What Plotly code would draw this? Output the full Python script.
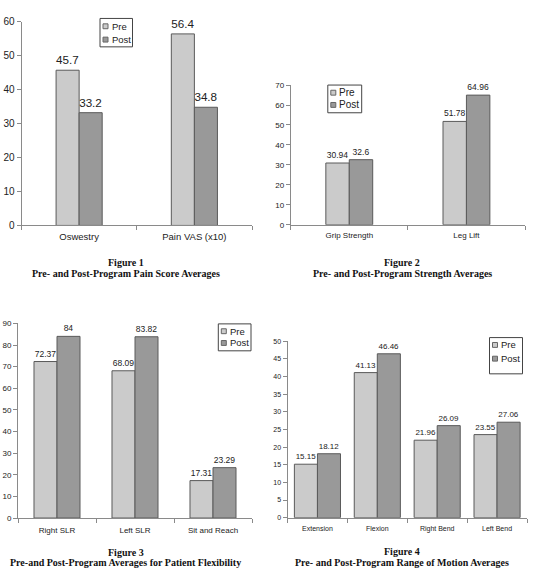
import plotly.graph_objects as go

W, H = 533, 588

cats1 = ["Oswestry", "Pain VAS (x10)"]
pre1 = [45.7, 56.4]
post1 = [33.2, 34.8]

cats2 = ["Grip Strength", "Leg Lift"]
pre2 = [30.94, 51.78]
post2 = [32.6, 64.96]

cats3 = ["Right SLR", "Left SLR", "Sit and Reach"]
pre3 = [72.37, 68.09, 17.31]
post3 = [84, 83.82, 23.29]

cats4 = ["Extension", "Flexion", "Right Bend", "Left Bend"]
pre4 = [15.15, 41.13, 21.96, 23.55]
post4 = [18.12, 46.46, 26.09, 27.06]

series_names = ["Pre", "Post"]

captions = [
    ("Figure 1", "Pre- and Post-Program Pain Score Averages"),
    ("Figure 2", "Pre- and Post-Program Strength Averages"),
    ("Figure 3", "Pre-and Post-Program Averages for Patient Flexibility"),
    ("Figure 4", "Pre- and Post-Program Range of Motion Averages"),
]

PRE_C = "#cbcbcb"
POST_C = "#999999"
EDGE = "#5a5a5a"
SANS = "Liberation Sans, Arial, sans-serif"
SERIF = "Liberation Serif, Times New Roman, serif"


def px_x(p):
    return p / W


def px_y(p):
    return 1 - p / H


# layout specs per panel
panels = [
    dict(cats=cats1, pre=pre1, post=post1, x0=21.5, x1=252, yt=16, yb=224, ymax=60, dt=10, bw=0.2,
         tf=10, txf=12, cf=9.5, so=2, box=(100, 12.7, 132.5, 41.7), items=(20.7, 34.3), lf=9.5,
         cx=126, cy=(262, 273.5)),
    dict(cats=cats2, pre=pre2, post=post2, x0=290.7, x1=525, yt=80.7, yb=223.3, ymax=70, dt=10, bw=0.2,
         tf=8, txf=8.5, cf=8, so=3, box=(327.8, 80.7, 361.7, 109), items=(88.5, 101), lf=10,
         cx=402, cy=(262, 273.5)),
    dict(cats=cats3, pre=pre3, post=post3, x0=18, x1=252, yt=324, yb=522.7, ymax=90, dt=10, bw=0.295,
         tf=8, txf=8.5, cf=8, so=4, box=(218.3, 324.5, 251, 352), items=(332, 344), lf=9.5,
         cx=125.5, cy=(557.7, 568)),
    dict(cats=cats4, pre=pre4, post=post4, x0=287.5, x1=527, yt=342.3, yb=522.3, ymax=50, dt=5, bw=0.385,
         tf=7, txf=8, cf=7, so=4, box=(489.5, 338.5, 522.5, 375.5), items=(346, 360), lf=9.5,
         cx=402, cy=(557.3, 568.3)),
]

fig = go.Figure()
layout = dict(
    width=W, height=H, margin=dict(l=0, r=0, t=0, b=0),
    paper_bgcolor="white", plot_bgcolor="white",
    barmode="overlay", showlegend=False, annotations=[], shapes=[],
    font=dict(family=SANS, color="#222"),
)

for i, p in enumerate(panels):
    n = i + 1
    xa = "x" if n == 1 else f"x{n}"
    ya = "y" if n == 1 else f"y{n}"
    bw = p["bw"]
    for name, vals, col, off in ((series_names[0], p["pre"], PRE_C, -bw),
                                 (series_names[1], p["post"], POST_C, 0)):
        fig.add_trace(go.Bar(
            x=p["cats"], y=vals, name=name, xaxis=xa, yaxis=ya,
            width=bw, offset=off,
            marker=dict(color=col, line=dict(color=EDGE, width=1)),
            text=[str(v) for v in vals], textposition="outside",
            textfont=dict(family=SANS, size=p["txf"], color="#222"),
            cliponaxis=False, hoverinfo="skip",
        ))
    xkey = "xaxis" if n == 1 else f"xaxis{n}"
    ykey = "yaxis" if n == 1 else f"yaxis{n}"
    layout[xkey] = dict(
        domain=[px_x(p["x0"]), px_x(p["x1"])], anchor=ya, type="category",
        range=[-0.5, len(p["cats"]) - 0.5],
        showline=True, linecolor="#8a8a8a", linewidth=1,
        ticks="outside", tickson="boundaries", ticklen=4, tickcolor="#8a8a8a",
        ticklabelstandoff=p["so"],
        showgrid=False, tickfont=dict(family=SANS, size=p["cf"], color="#222"),
    )
    layout[ykey] = dict(
        domain=[px_y(p["yb"]), px_y(p["yt"])], anchor=xa, range=[0, p["ymax"]], dtick=p["dt"],
        showline=True, linecolor="#8a8a8a", linewidth=1,
        ticks="outside", ticklen=4, tickcolor="#8a8a8a",
        showgrid=False, zeroline=False,
        tickfont=dict(family=SANS, size=p["tf"], color="#222"),
    )
    # legend box
    bx0, by0, bx1, by1 = p["box"]
    layout["shapes"].append(dict(
        type="rect", xref="paper", yref="paper",
        x0=px_x(bx0), x1=px_x(bx1), y0=px_y(by1), y1=px_y(by0),
        line=dict(color="#444", width=1), fillcolor="white", layer="above",
    ))
    for name, col, yc in ((series_names[0], PRE_C, p["items"][0]), (series_names[1], POST_C, p["items"][1])):
        sx = bx0 + 3
        layout["shapes"].append(dict(
            type="rect", xref="paper", yref="paper",
            x0=px_x(sx), x1=px_x(sx + 5), y0=px_y(yc + 2.5), y1=px_y(yc - 2.5),
            line=dict(color="#666", width=1), fillcolor=col, layer="above",
        ))
        layout["annotations"].append(dict(
            x=px_x(sx + 6.5), y=px_y(yc), xref="paper", yref="paper", showarrow=False,
            text=name, font=dict(family=SANS, size=p["lf"], color="#222"),
            xanchor="left", yanchor="middle",
        ))
    # captions
    for txt, yc in ((captions[i][0], p["cy"][0]), (captions[i][1], p["cy"][1])):
        layout["annotations"].append(dict(
            x=px_x(p["cx"]), y=px_y(yc), xref="paper", yref="paper", showarrow=False,
            text=f"<b>{txt}</b>", font=dict(family=SERIF, size=10, color="#111"),
            xanchor="center", yanchor="middle",
        ))

fig.update_layout(**layout)
fig.write_html("out.html")
